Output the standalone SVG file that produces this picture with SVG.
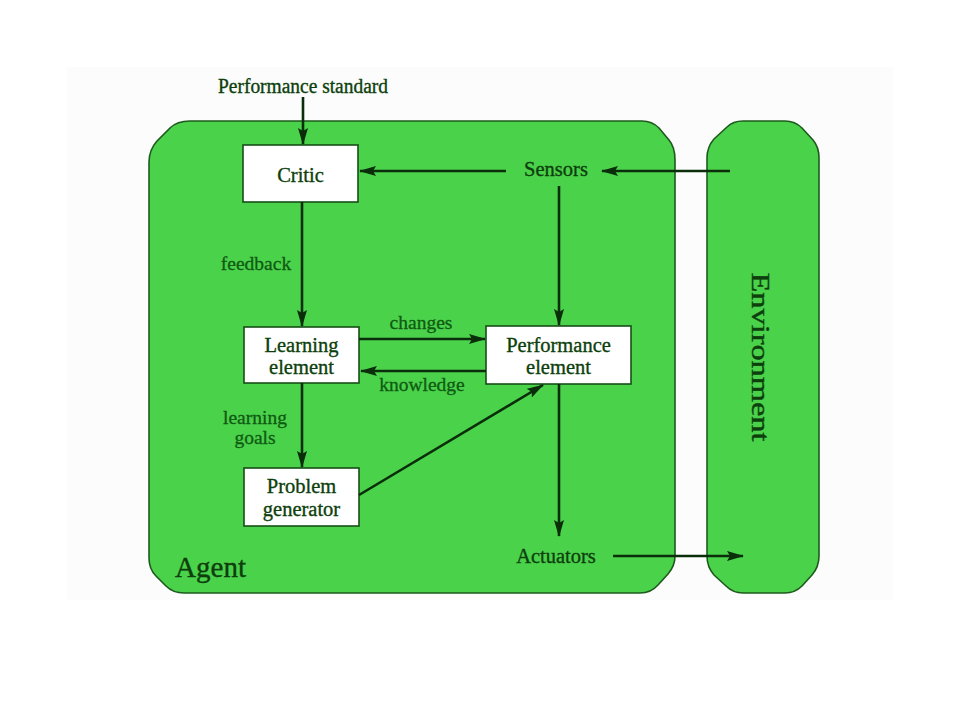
<svg xmlns="http://www.w3.org/2000/svg" width="960" height="720" viewBox="0 0 960 720">
<style>
.shape{fill:#4bd24b;stroke:#1d5a1d;stroke-width:1.6}
.box{fill:#ffffff;stroke:#174f17;stroke-width:1.6}
.t{font-family:"Liberation Serif","Times New Roman",serif;font-size:20.5px;fill:#0d3f0d;stroke:#0d3f0d;stroke-width:0.35;text-anchor:middle}
.lbl{font-family:"Liberation Serif","Times New Roman",serif;font-size:19.5px;fill:#0f5a12;stroke:#0f5a12;stroke-width:0.3;text-anchor:middle}
.big{font-family:"Liberation Serif","Times New Roman",serif;fill:#0d3f0d;stroke:#0d3f0d;stroke-width:0.4}
.c{stroke:#0a2d0a;stroke-width:2.6;fill:none;marker-end:url(#ah)}
</style>
<defs>
<marker id="ah" viewBox="0 0 17 10" refX="16" refY="5" markerWidth="17" markerHeight="10" markerUnits="userSpaceOnUse" orient="auto">
<path d="M0,0 L17,5 L0,10 L3,5 Z" fill="#0a2d0a"/>
</marker>
</defs>
<rect x="0" y="0" width="960" height="720" fill="#ffffff"/>
<rect x="67" y="67" width="826" height="533" fill="#fbfcfb"/>
<g id="agent">
<path class="shape" d="M149,162 Q149,150 157,141 L170,128 Q177,121 190,121 L642,121 Q652,121 659,128 L669,140 Q675,147 675,160 L675,556 Q675,566 668,574 L658,585 Q651,593 640,593 L184,593 Q173,593 166,586 L156,576 Q149,569 149,558 Z"/>
<text class="big" x="175" y="577" style="font-size:30px" textLength="71" lengthAdjust="spacingAndGlyphs">Agent</text>
</g>
<g id="environment">
<path class="shape" d="M707,158 Q707,147 714,139 L727,127 Q733,121 743,121 L785,121 Q795,121 802,128 L813,140 Q819,147 819,158 L819,556 Q819,567 812,575 L802,586 Q795,593 785,593 L743,593 Q733,593 726,586 L714,575 Q707,567 707,556 Z"/>
<text class="big" transform="translate(752,357) rotate(90)" x="0" y="0" style="font-size:26px;text-anchor:middle" textLength="169" lengthAdjust="spacingAndGlyphs">Environment</text>
</g>
<g id="performance-standard">
<text class="t" x="303" y="93" textLength="170" lengthAdjust="spacingAndGlyphs">Performance standard</text>
</g>
<g id="critic">
<rect class="box" x="243" y="145" width="115" height="57"/>
<text class="t" x="300.5" y="182">Critic</text>
</g>
<g id="sensors">
<text class="t" x="556" y="176">Sensors</text>
</g>
<g id="learning-element">
<rect class="box" x="244" y="327" width="115" height="56"/>
<text class="t" x="301.5" y="352">Learning</text>
<text class="t" x="301.5" y="374">element</text>
</g>
<g id="performance-element">
<rect class="box" x="486" y="326" width="145" height="58"/>
<text class="t" x="558.5" y="352">Performance</text>
<text class="t" x="558.5" y="374">element</text>
</g>
<g id="problem-generator">
<rect class="box" x="244" y="468" width="115" height="58"/>
<text class="t" x="301.5" y="493">Problem</text>
<text class="t" x="301.5" y="516">generator</text>
</g>
<g id="actuators">
<text class="t" x="556" y="563">Actuators</text>
</g>
<g id="connectors">
<line class="c" x1="303" y1="97" x2="303" y2="144"/>
<line class="c" x1="506" y1="171" x2="360" y2="171"/>
<line class="c" x1="730" y1="171" x2="602" y2="171"/>
<line class="c" x1="559" y1="186" x2="559" y2="325"/>
<line class="c" x1="302" y1="202" x2="302" y2="326"/>
<line class="c" x1="359" y1="339" x2="485" y2="339"/>
<line class="c" x1="486" y1="371" x2="361" y2="371"/>
<line class="c" x1="302" y1="383" x2="302" y2="467"/>
<line class="c" x1="359" y1="495" x2="543" y2="385"/>
<line class="c" x1="559" y1="384" x2="559" y2="536"/>
<line class="c" x1="613" y1="556" x2="743" y2="556"/>
<text class="lbl" x="256" y="270">feedback</text>
<text class="lbl" x="421" y="329">changes</text>
<text class="lbl" x="422" y="391">knowledge</text>
<text class="lbl" x="255" y="424">learning</text>
<text class="lbl" x="255" y="444">goals</text>
</g>
</svg>
